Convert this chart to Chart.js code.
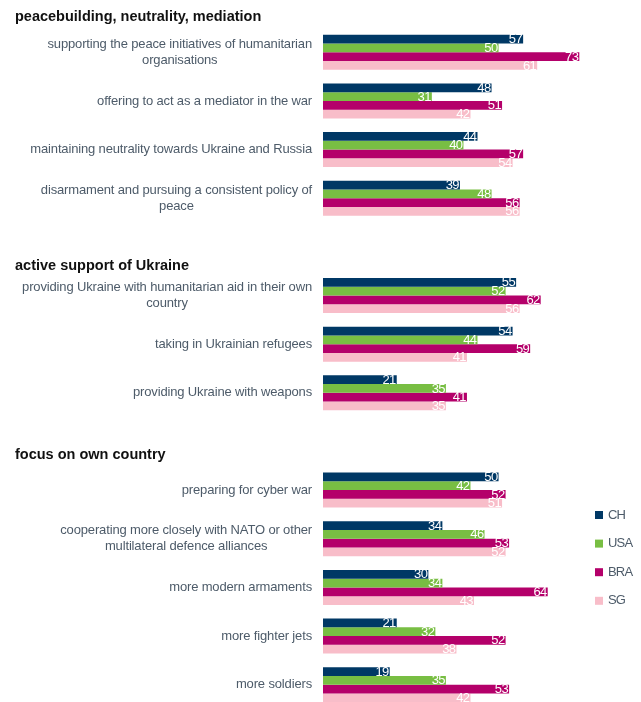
<!DOCTYPE html>
<html>
<head>
<meta charset="utf-8">
<script src="https://cdn.jsdelivr.net/npm/chart.js@4.4.1/dist/chart.umd.min.js"></script>
<style>
  html, body { margin: 0; padding: 0; background: #fff; overflow: hidden; }
  #wrap { width: 641px; height: 720px; }
</style>
</head>
<body>
<div id="wrap"><canvas id="chart" width="641" height="720"></canvas></div>
<script>
/* ---------- DATA ---------- */
// empty string = spacer row before a section header
const categories = [
    ["supporting the peace initiatives of humanitarian", "organisations"],
    ["offering to act as a mediator in the war"],
    ["maintaining neutrality towards Ukraine and Russia"],
    ["disarmament and pursuing a consistent policy of", "peace"],
    "",
    ["providing Ukraine with humanitarian aid in their own", "country"],
    ["taking in Ukrainian refugees"],
    ["providing Ukraine with weapons"],
    "",
    ["preparing for cyber war"],
    ["cooperating more closely with NATO or other", "multilateral defence alliances"],
    ["more modern armaments"],
    ["more fighter jets"],
    ["more soldiers"]
];

const sections = ["peacebuilding, neutrality, mediation", "active support of Ukraine", "focus on own country"];
const sectionStart = [0, 5, 9];

const seriesNames = ["CH", "USA", "BRA", "SG"];
const valuesCH  = [57, 48, 44, 39, null, 55, 54, 21, null, 50, 34, 30, 21, 19];
const valuesUSA = [50, 31, 40, 48, null, 52, 44, 35, null, 42, 46, 34, 32, 35];
const valuesBRA = [73, 51, 57, 56, null, 62, 59, 41, null, 52, 53, 64, 52, 53];
const valuesSG  = [61, 42, 54, 56, null, 56, 41, 35, null, 51, 52, 43, 38, 42];

/* ---------- STYLE ---------- */
const colors = ["#003865", "#78be43", "#b4006a", "#f8bdc9"];
const labelColor = "#4d5b69";
const headerDy = [-35, -30, -35];

/* ---------- PLUGINS ---------- */
const rowLabels = {
    id: "rowLabels",
    afterDraw(chart) {
        const ctx = chart.ctx;
        const y = chart.scales.y;
        const right = 312;
        ctx.save();
        ctx.font = "13px 'Liberation Sans', Arial, sans-serif";
        ctx.letterSpacing = "-0.15px";
        ctx.fillStyle = labelColor;
        ctx.textBaseline = "middle";
        ctx.textAlign = "center";
        categories.forEach((lines, i) => {
            if (!lines) return;
            const w = Math.max(...lines.map(l => ctx.measureText(l).width));
            const cy = y.getPixelForValue(i);
            const lh = 16;
            const top = cy - (lines.length - 1) * lh / 2;
            lines.forEach((l, k) => ctx.fillText(l, right - w / 2, top + k * lh));
        });

        // section headers
        ctx.letterSpacing = "0px";
        ctx.font = "bold 14.5px 'Liberation Sans', Arial, sans-serif";
        ctx.fillStyle = "#111";
        ctx.textAlign = "left";
        sections.forEach((s, i) => {
            ctx.fillText(s, 15, y.getPixelForValue(sectionStart[i]) + headerDy[i]);
        });

        // legend
        ctx.font = "13px 'Liberation Sans', Arial, sans-serif";
        ctx.letterSpacing = "-0.8px";
        seriesNames.forEach((n, i) => {
            const ly = 515 + i * 28.6;
            ctx.fillStyle = colors[i];
            ctx.fillRect(595, ly - 4, 8, 8);
            ctx.fillStyle = labelColor;
            ctx.fillText(n, 608, ly);
        });
        ctx.restore();
    }
};

const valueLabels = {
    id: "valueLabels",
    afterDatasetsDraw(chart) {
        const ctx = chart.ctx;
        ctx.save();
        ctx.font = "13px 'Liberation Sans', Arial, sans-serif";
        ctx.letterSpacing = "-0.6px";
        ctx.fillStyle = "#fff";
        ctx.textAlign = "right";
        ctx.textBaseline = "middle";
        chart.data.datasets.forEach((ds, di) => {
            chart.getDatasetMeta(di).data.forEach((bar, i) => {
                const v = ds.data[i];
                if (v == null) return;
                ctx.fillText(String(v), bar.x - 1, bar.y + 0.5);
            });
        });
        ctx.restore();
    }
};

/* ---------- CHART ---------- */
const datasets = [valuesCH, valuesUSA, valuesBRA, valuesSG].map((d, i) => ({
    label: seriesNames[i],
    data: d,
    backgroundColor: colors[i],
    borderWidth: 0,
    categoryPercentage: 0.72,
    barPercentage: 1
}));

new Chart(document.getElementById("chart"), {
    type: "bar",
    data: { labels: categories.map((c, i) => c ? c.join(" ") : "gap" + i), datasets: datasets },
    options: {
        indexAxis: "y",
        responsive: false,
        animation: false,
        layout: { padding: { left: 323, right: 2, top: 28, bottom: 11 } },
        scales: {
            x: { display: false, min: 0, max: 90 },
            y: { display: false }
        },
        plugins: { legend: { display: false }, tooltip: { enabled: false } }
    },
    plugins: [valueLabels, rowLabels]
});
</script>
</body>
</html>
